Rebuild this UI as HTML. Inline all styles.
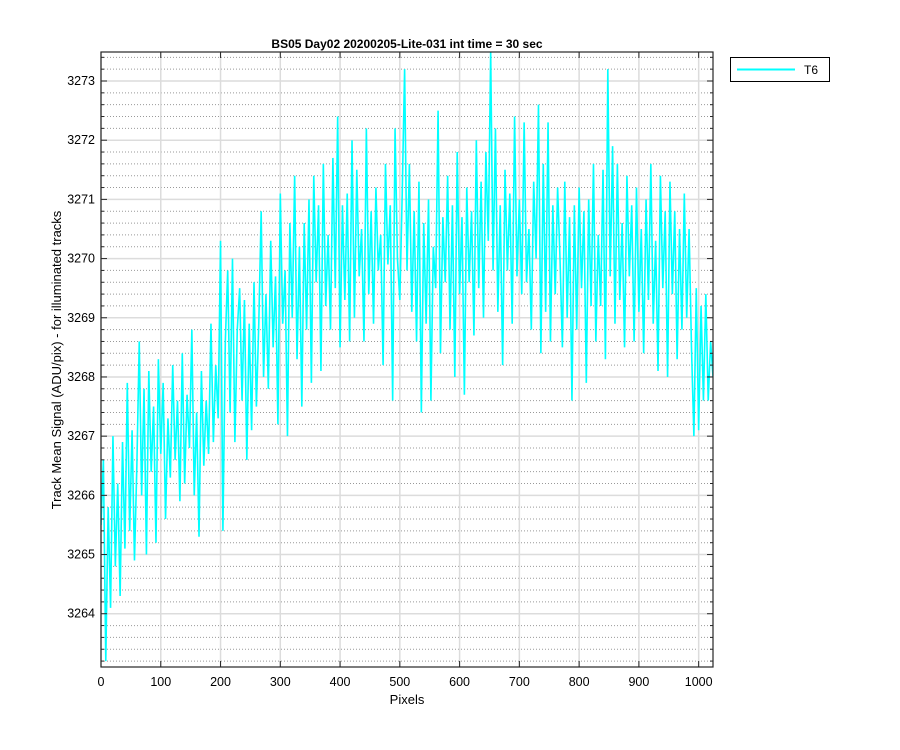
<!DOCTYPE html>
<html><head><meta charset="utf-8"><style>
body{margin:0;background:#fff;}
svg{display:block;font-family:"Liberation Sans",sans-serif;}
</style></head><body>
<svg id="chart" width="900" height="750">
<rect width="900" height="750" fill="#fff"/>
<g id="grid"></g>
<g id="series"></g>
<g id="axes"></g>
<text x="407" y="48" text-anchor="middle" font-size="12" font-weight="bold">BS05 Day02 20200205-Lite-031 int time = 30 sec</text>
<text x="407" y="704" text-anchor="middle" font-size="13">Pixels</text>
<text transform="translate(61,360) rotate(-90)" text-anchor="middle" font-size="13">Track Mean Signal (ADU/pix) - for illuminated tracks</text>
<g>
<rect x="730.5" y="57.5" width="99" height="24" fill="#fff" stroke="#000" stroke-width="1"/>
<line x1="737" y1="69.5" x2="795" y2="69.5" stroke="#00ffff" stroke-width="2"/>
<text x="804" y="74" font-size="12">T6</text>
</g>
</svg>
<script>
const xTicks=[0,100,200,300,400,500,600,700,800,900,1000];
const yTicks=[3264,3265,3266,3267,3268,3269,3270,3271,3272,3273];
const xStep=4;
const values=[
3265.5,3266.6,3263.2,3265.8,3264.1,3267.0,3264.8,3266.2,3264.3,3266.9,3265.1,3267.9,3265.4,3267.1,3264.9,3266.5,
3268.6,3266.0,3267.8,3265.0,3268.1,3266.4,3267.5,3265.2,3268.3,3266.7,3267.9,3265.6,3267.3,3266.3,3268.2,3266.6,
3267.6,3265.9,3268.4,3266.2,3267.7,3266.8,3268.8,3266.0,3267.4,3265.3,3268.1,3266.5,3267.6,3266.7,3268.9,3266.9,
3268.2,3267.3,3270.3,3265.4,3268.6,3269.8,3267.4,3270.0,3266.9,3268.8,3269.5,3267.6,3269.3,3266.6,3268.9,3267.1,
3269.6,3267.5,3268.9,3270.8,3268.0,3269.4,3267.8,3270.3,3268.5,3269.7,3267.2,3271.1,3268.9,3269.8,3267.0,3270.6,
3269.0,3271.4,3268.3,3270.2,3267.5,3270.6,3268.8,3271.0,3267.9,3271.4,3269.6,3270.9,3268.1,3271.6,3269.2,3270.4,
3268.8,3271.7,3269.5,3272.4,3268.5,3270.9,3269.3,3271.1,3268.6,3272.0,3269.0,3271.5,3269.7,3270.5,3268.6,3272.2,
3269.4,3270.8,3268.9,3271.2,3269.8,3270.4,3268.2,3271.6,3269.9,3270.9,3267.6,3272.2,3270.0,3269.3,3271.1,3273.2,
3269.8,3271.6,3269.1,3270.8,3268.6,3271.3,3267.4,3270.6,3268.9,3271.0,3267.6,3270.2,3269.5,3272.5,3268.4,3270.7,
3269.6,3271.4,3268.8,3270.9,3268.0,3271.8,3269.4,3270.7,3267.7,3271.2,3269.6,3270.8,3268.7,3272.0,3269.5,3271.3,
3269.0,3271.8,3270.3,3273.5,3269.8,3272.2,3269.1,3270.9,3268.2,3271.5,3269.8,3271.1,3268.9,3272.4,3269.7,3271.0,
3269.4,3272.3,3269.6,3270.5,3268.8,3271.3,3270.0,3272.6,3268.4,3271.6,3269.1,3272.3,3268.6,3270.9,3269.4,3271.2,
3270.0,3268.5,3271.3,3269.0,3270.7,3267.6,3270.9,3268.8,3271.2,3269.5,3270.8,3267.9,3271.0,3269.2,3271.6,3268.6,
3270.4,3269.2,3271.5,3268.3,3273.2,3269.7,3271.9,3268.9,3271.6,3269.3,3270.6,3268.5,3271.4,3269.7,3270.9,3268.6,
3271.2,3269.1,3270.5,3268.4,3271.0,3269.3,3271.6,3268.9,3270.3,3268.1,3271.4,3269.5,3270.8,3268.0,3271.3,3269.4,
3270.8,3268.3,3270.5,3268.8,3271.1,3269.0,3270.5,3268.5,3267.0,3269.5,3267.1,3269.2,3267.6,3269.4,3267.6,3268.6,
3268.0];
const L=101,R=713,T=52,B=667,XMIN=0,XMAX=1024,YMIN=3263.1,YMAX=3273.49;
const sx=v=>L+(v-XMIN)/(XMAX-XMIN)*(R-L);
const sy=v=>B-(v-YMIN)/(YMAX-YMIN)*(B-T);
const NS="http://www.w3.org/2000/svg";
function mk(tag,attrs,parent){const e=document.createElementNS(NS,tag);for(const k in attrs)e.setAttribute(k,attrs[k]);parent.appendChild(e);return e;}
const grid=document.getElementById('grid'),axes=document.getElementById('axes'),series=document.getElementById('series');
// minor y grid
for(let m=Math.ceil(YMIN*5);m<=YMAX*5;m++){if(m%5===0)continue;const y=sy(m/5);
const g=mk('line',{x1:L,x2:R,y1:y,y2:y,stroke:'#999','stroke-width':1,'stroke-dasharray':'1,2'},grid);


const t1=mk('line',{x1:L,x2:L+3,y1:y,y2:y,stroke:'#262626'},axes);


const t2=mk('line',{x1:R-3,x2:R,y1:y,y2:y,stroke:'#262626'},axes);

}
yTicks.forEach(v=>{const y=sy(v);
const g=mk('line',{x1:L,x2:R,y1:y,y2:y,stroke:'#dcdcdc','stroke-width':1.5},grid);


const t=mk('text',{x:L-6,y:y+4,'text-anchor':'end','font-size':12.5},axes);t.textContent=v;


mk('line',{x1:L,x2:L+6,y1:y,y2:y,stroke:'#262626'},axes);
mk('line',{x1:R-6,x2:R,y1:y,y2:y,stroke:'#262626'},axes);});
xTicks.forEach(v=>{const x=sx(v);
const g=mk('line',{x1:x,x2:x,y1:T,y2:B,stroke:'#dcdcdc','stroke-width':1.5},grid);


const t=mk('text',{x:x,y:B+19,'text-anchor':'middle','font-size':12.5},axes);t.textContent=v;


mk('line',{x1:x,x2:x,y1:B-6,y2:B,stroke:'#262626'},axes);
mk('line',{x1:x,x2:x,y1:T,y2:T+6,stroke:'#262626'},axes);});
const box=mk('rect',{x:L,y:T,width:R-L,height:B-T,fill:'none',stroke:'#262626','stroke-width':1.2},axes);


const pts=values.map((v,i)=>sx(Math.min(i*xStep,XMAX)).toFixed(2)+','+sy(v).toFixed(2)).join(' ');
const clip=mk('clipPath',{id:'c'},series);mk('rect',{x:L,y:T,width:R-L,height:B-T},clip);
const pl=mk('polyline',{points:pts,fill:'none',stroke:'#00ffff','stroke-width':1.6,'clip-path':'url(#c)'},series);


</script>
</body></html>
